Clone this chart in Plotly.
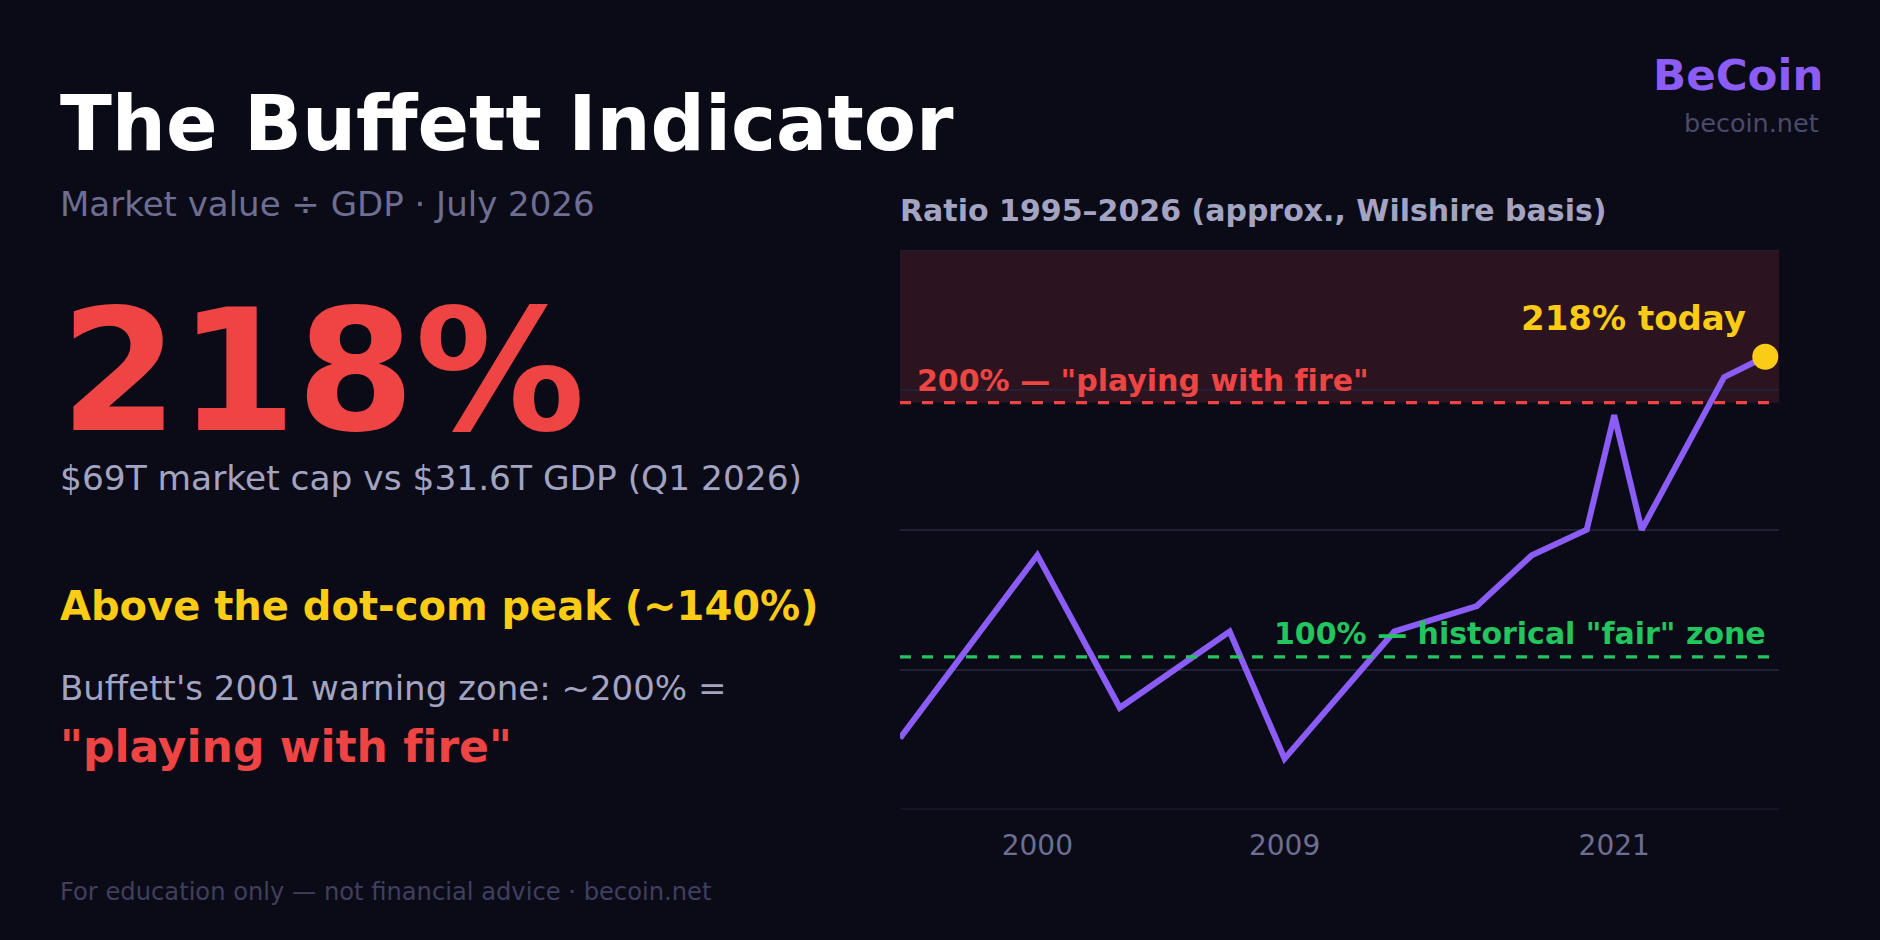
import plotly.graph_objects as go

# Buffett indicator, approx. ratio of total market cap to GDP (%)
years = [1995, 2000, 2003, 2007, 2009, 2013, 2016, 2018, 2020, 2021, 2022, 2025, 2026.5]
ratio = [68, 140, 80, 110, 60, 110, 120, 140, 150, 195, 150, 210, 218]

tick_years = [2000, 2009, 2021]
fair_level = 100
fire_level = 200
y_range = [40, 260]

W, H = 1880, 940
BG = "#0b0b18"
GRID = "#222034"
FONT = "DejaVu Sans"
FIRE = "f\u200cire"  # keep "fi" from turning into a ligature


def fx(px):
    return px / W


def fy(px):
    return 1 - px / H


fig = go.Figure()

# main ratio line
fig.add_trace(go.Scatter(
    x=years, y=ratio, mode="lines",
    line=dict(color="#8b5cf6", width=6),
    hoverinfo="skip", showlegend=False
))

# today marker
fig.add_trace(go.Scatter(
    x=[years[-1]], y=[ratio[-1]], mode="markers",
    marker=dict(color="#facc15", size=26),
    hoverinfo="skip", showlegend=False
))

# danger zone above 200%
fig.add_shape(type="rect", xref="x domain", yref="y",
              x0=0, x1=1, y0=fire_level, y1=y_range[1],
              fillcolor="#2b141f", line_width=0, layer="below")

# grid lines at the range edges (plotly skips these)
for yv in y_range:
    fig.add_shape(type="line", xref="x domain", yref="y",
                  x0=0, x1=1, y0=yv, y1=yv,
                  line=dict(color=GRID, width=2), layer="below")

fig.add_shape(type="line", xref="x domain", yref="y",
              x0=0, x1=1, y0=fire_level, y1=fire_level,
              line=dict(color="#ef4444", width=3.2, dash="11px,11px"))
fig.add_shape(type="line", xref="x domain", yref="y",
              x0=0, x1=1, y0=fair_level, y1=fair_level,
              line=dict(color="#22c55e", width=3.2, dash="11px,11px"))


def label(text, x, y, size, color, bold=False, anchor="left", height=None):
    if bold:
        text = "<b>" + text + "</b>"
    fig.add_annotation(
        text=text, x=fx(x), y=fy(y), xref="paper", yref="paper",
        xanchor=anchor, yanchor="middle", showarrow=False, height=height,
        font=dict(family=FONT, size=size, color=color)
    )


# left column
label("The Buffett Indicator", 57.5, 123, 76, "#ffffff", bold=True)
label("Market value ÷ GDP · July 2026", 57.5, 204, 34, "#6e6e92")
label("218%", 57.5, 371, 170, "#ef4444", bold=True, height=160)
label("$69T market cap vs $31.6T GDP (Q1 2026)", 57.5, 478, 34.4, "#a3a3c2")
label("Above the dot-com peak (~140%)", 57.5, 606, 40, "#facc15", bold=True)
label("Buffett's 2001 warning zone: ~200% =", 57.5, 688, 34, "#a3a3c2")
label('"playing with ' + FIRE + '"', 57.5, 746, 44, "#ef4444", bold=True)
label("For education only — not financial advice · becoin.net", 57.5, 892, 24.2, "#3f3f5f")

# brand
label("BeCoin", 1824.5, 75, 43.5, "#8b5cf6", bold=True, anchor="right")
label("becoin.net", 1821, 123, 25.5, "#4a4a6a", anchor="right")

# chart labels
label("Ratio 1995–2026 (approx., Wilshire basis)", 897.5, 211, 30, "#a3a3c2", bold=True)
label('200% — "playing with ' + FIRE + '"', 914.5, 380, 30, "#ef4444", bold=True)
label("218% today", 1747.5, 318, 34, "#facc15", bold=True, anchor="right")
label('100% — historical "fair" zone', 1767.5, 633, 30, "#22c55e", bold=True, anchor="right")

fig.update_layout(
    width=W, height=H,
    margin=dict(l=0, r=0, t=0, b=0),
    paper_bgcolor=BG, plot_bgcolor=BG,
    showlegend=False,
    font=dict(family=FONT),
    xaxis=dict(
        domain=[fx(900), fx(1779)], range=[1995, 2027],
        tickvals=tick_years, showgrid=False, zeroline=False, showline=False,
        ticks="", tickfont=dict(size=28, color="#6e6e92"),
        ticklabelstandoff=16, fixedrange=True
    ),
    yaxis=dict(
        domain=[fy(809.5), fy(250)], range=y_range,
        tick0=y_range[0], dtick=55, showticklabels=False,
        showgrid=True, gridcolor=GRID, gridwidth=2,
        zeroline=False, showline=False, fixedrange=True
    ),
)

fig.write_html("out.html", config={"displayModeBar": False},
               post_script="document.body.style.margin='0';document.body.style.background='%s';" % BG)
